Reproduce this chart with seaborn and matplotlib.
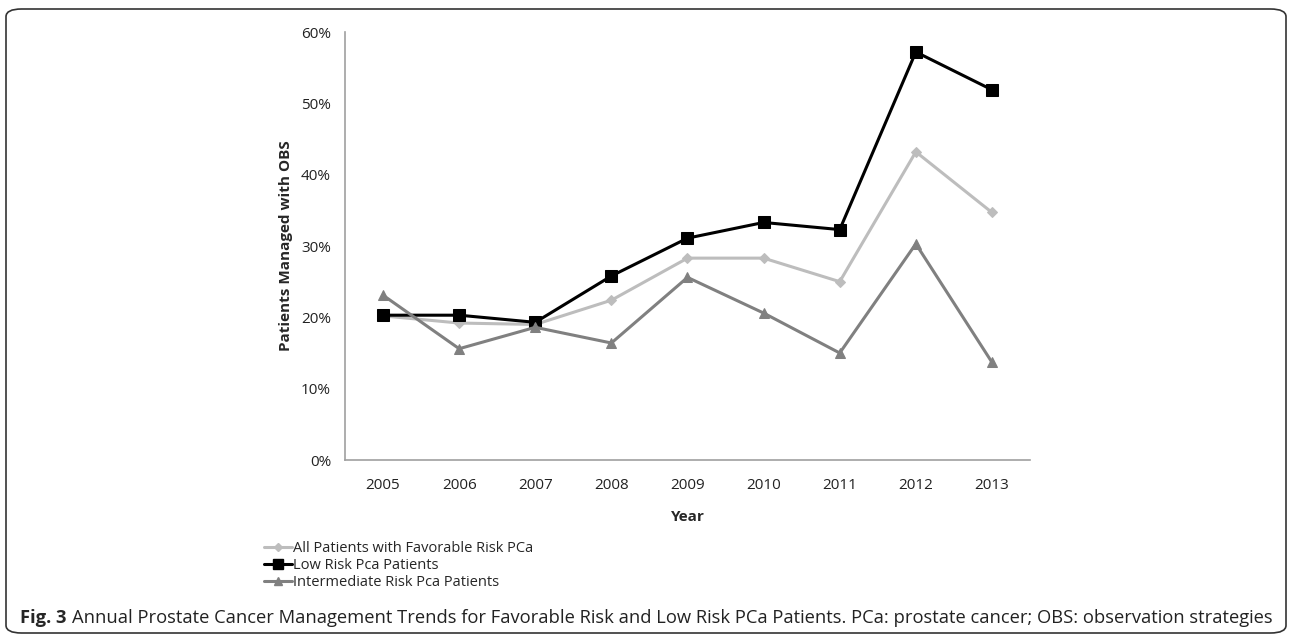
import matplotlib
matplotlib.use("Agg")
import matplotlib.pyplot as plt
import seaborn as sns
import pandas as pd
import numpy as np
from matplotlib.patches import FancyBboxPatch
from matplotlib.lines import Line2D
from matplotlib.ticker import PercentFormatter, FixedLocator

years = ["2005", "2006", "2007", "2008", "2009", "2010", "2011", "2012", "2013"]
all_favorable = [20.2, 19.2, 19.0, 22.4, 28.3, 28.3, 25.0, 43.2, 34.7]
low_risk = [20.3, 20.3, 19.3, 25.8, 31.1, 33.3, 32.3, 57.2, 51.9]
intermediate = [23.1, 15.6, 18.6, 16.4, 25.6, 20.6, 15.0, 30.3, 13.7]

series_names = ["All Patients with Favorable Risk PCa", "Low Risk Pca Patients",
                "Intermediate Risk Pca Patients"]
series_vals = [all_favorable, low_risk, intermediate]
colors = ["#bdbdbd", "#000000", "#808080"]
markers = ["D", "s", "^"]
msizes = [5, 8, 7]
leg_msizes = [4, 6.5, 5.5]

sns.set_style("white")
plt.rcParams['font.family'] = ['Open Sans', 'DejaVu Sans']

rows = []
for name, vals in zip(series_names, series_vals):
    for i, (y, v) in enumerate(zip(years, vals)):
        rows.append({"pos": i, "year": y, "value": v, "series": name})
df = pd.DataFrame(rows)

fig = plt.figure(figsize=(12.93, 6.39), dpi=100)
ax = fig.add_axes([345/1293, 1-460/639, (1030-345)/1293, (460-32)/639])

for name, c, m, ms in zip(series_names, colors, markers, msizes):
    sub = df[df.series == name]
    sns.lineplot(data=sub, x="pos", y="value", ax=ax, color=c, marker=m,
                 markersize=ms, markeredgecolor=c, linewidth=2.2, legend=False)

ax.set_xlim(-0.5, 8.5)
ax.set_ylim(0, 60)
ax.xaxis.set_major_locator(FixedLocator(range(len(years))))
ax.set_xticklabels(years)
ax.xaxis.set_minor_locator(FixedLocator(np.arange(-0.5, 9, 1)))
ax.tick_params(axis="x", which="major", length=0, pad=13, labelsize=11, colors="#222222")
ax.tick_params(axis="x", which="minor", length=6, width=1, color="#a0a0a0", direction="out")
ax.set_yticks(range(0, 61, 10))
ax.yaxis.set_major_formatter(PercentFormatter(decimals=0))
ax.tick_params(axis="y", which="major", length=6, width=1, color="#a0a0a0",
               direction="out", labelsize=11, colors="#222222", pad=4)
for s in ["top", "right"]:
    ax.spines[s].set_visible(False)
for s in ["left", "bottom"]:
    ax.spines[s].set_color("#a0a0a0")
    ax.spines[s].set_linewidth(1.2)
ax.set_xlabel("Year", fontweight="bold", fontsize=11, labelpad=12)
ax.set_ylabel("Patients Managed with OBS", fontweight="bold", fontsize=11, labelpad=6)

handles = [Line2D([0], [0], color=c, marker=m, markersize=ms, markeredgecolor=c, linewidth=2.2)
           for c, m, ms in zip(colors, markers, leg_msizes)]
fig.legend(handles, series_names, loc="upper left", bbox_to_anchor=(258/1293, 1-535/639),
           frameon=False, fontsize=10.5, handlelength=1.9, handletextpad=0.1,
           labelspacing=0.15, borderaxespad=0)

# rounded border
box = FancyBboxPatch((6/1293, 6/639), 1280/1293, 624/639,
                     boxstyle="round,pad=0,rounding_size=0.012",
                     transform=fig.transFigure, fill=False, edgecolor="#333333", linewidth=1.2)
fig.patches.append(box)

t1 = fig.text(20/1293, 1-618/639, "Fig. 3", fontweight="bold", fontsize=13.2, va="center", ha="left")
fig.canvas.draw()
bb = t1.get_window_extent()
fig.text((bb.x1 + 5)/1293, 1-618/639,
         "Annual Prostate Cancer Management Trends for Favorable Risk and Low Risk PCa Patients. PCa: prostate cancer; OBS: observation strategies",
         fontsize=13.2, va="center", ha="left", color="#222222")

fig.savefig("out.png", dpi=100)
